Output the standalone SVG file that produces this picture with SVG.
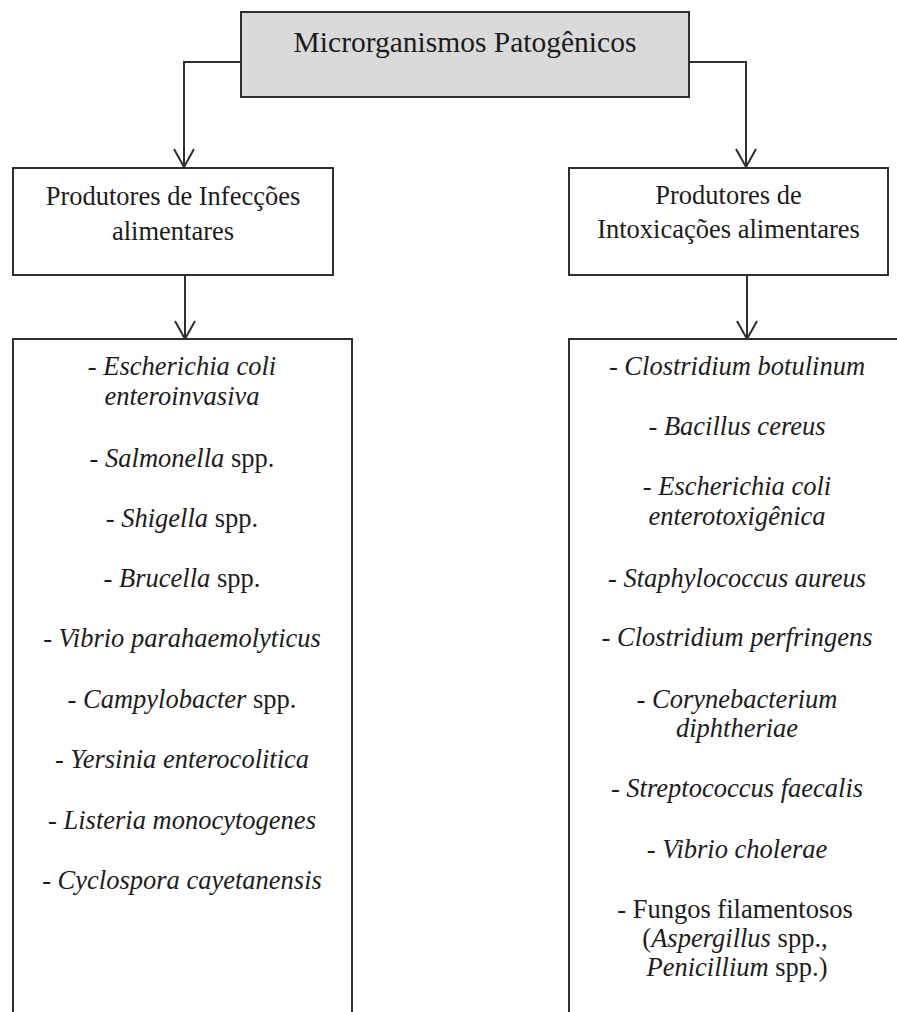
<svg xmlns="http://www.w3.org/2000/svg" width="897" height="1012" viewBox="0 0 897 1012">
<style>
.box{fill:#ffffff;stroke:#2e2e2e;stroke-width:2}
.root{fill:#d9dad9;stroke:#2e2e2e;stroke-width:2}
.t{font-family:"Liberation Serif","Times New Roman",serif;font-size:26.5px;fill:#1c1c1c;text-anchor:middle}
.title{font-size:29.5px}
.i{font-style:italic}
.con{fill:none;stroke:#2e2e2e;stroke-width:2}
</style>
<defs>
<marker id="arr" markerUnits="userSpaceOnUse" viewBox="-20 -12 22 24" refX="0" refY="0" markerWidth="22" markerHeight="24" orient="auto" overflow="visible">
<path d="M-18,-10 L0,0 L-18,10" fill="none" stroke="#2e2e2e" stroke-width="2"/>
</marker>
</defs>
<rect width="897" height="1012" fill="#ffffff"/>
<g id="connectors">
<path class="con" d="M241,62 H184 V167" marker-end="url(#arr)"/>
<path class="con" d="M689,62 H746 V167" marker-end="url(#arr)"/>
<path class="con" d="M185,275 V339" marker-end="url(#arr)"/>
<path class="con" d="M747,275 V339" marker-end="url(#arr)"/>
</g>
<g id="root">
<rect class="root" x="241" y="12" width="448" height="85"/>
<text class="t title" x="465" y="52">Microrganismos Patogênicos</text>
</g>
<g id="infeccoes">
<rect class="box" x="13" y="168" width="320" height="107"/>
<text class="t" x="173" y="205">Produtores de Infecções</text>
<text class="t" x="173" y="240">alimentares</text>
</g>
<g id="intoxicacoes">
<rect class="box" x="569" y="168" width="319" height="107"/>
<text class="t" x="728.5" y="204">Produtores de</text>
<text class="t" x="728.5" y="238">Intoxicações alimentares</text>
</g>
<g id="lista-infeccoes">
<rect class="box" x="13" y="339" width="339" height="700"/>
<text class="t" x="182" y="375">- <tspan class="i">Escherichia coli</tspan></text>
<text class="t i" x="182" y="405">enteroinvasiva</text>
<text class="t" x="182" y="467">- <tspan class="i">Salmonella</tspan> spp.</text>
<text class="t" x="182" y="527">- <tspan class="i">Shigella</tspan> spp.</text>
<text class="t" x="182" y="587">- <tspan class="i">Brucella</tspan> spp.</text>
<text class="t" x="182" y="647">- <tspan class="i">Vibrio parahaemolyticus</tspan></text>
<text class="t" x="182" y="708">- <tspan class="i">Campylobacter</tspan> spp.</text>
<text class="t" x="182" y="768">- <tspan class="i">Yersinia enterocolitica</tspan></text>
<text class="t" x="182" y="829">- <tspan class="i">Listeria monocytogenes</tspan></text>
<text class="t" x="182" y="889">- <tspan class="i">Cyclospora cayetanensis</tspan></text>
</g>
<g id="lista-intoxicacoes">
<rect class="box" x="569" y="339" width="360" height="700"/>
<text class="t" x="737" y="375">- <tspan class="i">Clostridium botulinum</tspan></text>
<text class="t" x="737" y="435">- <tspan class="i">Bacillus cereus</tspan></text>
<text class="t" x="737" y="495">- <tspan class="i">Escherichia coli</tspan></text>
<text class="t i" x="737" y="525">enterotoxigênica</text>
<text class="t" x="737" y="587">- <tspan class="i">Staphylococcus aureus</tspan></text>
<text class="t" x="737" y="646">- <tspan class="i">Clostridium perfringens</tspan></text>
<text class="t" x="737" y="708">- <tspan class="i">Corynebacterium</tspan></text>
<text class="t i" x="737" y="737">diphtheriae</text>
<text class="t" x="737" y="797">- <tspan class="i">Streptococcus faecalis</tspan></text>
<text class="t" x="737" y="858">- <tspan class="i">Vibrio cholerae</tspan></text>
<text class="t" x="735" y="918">- Fungos filamentosos</text>
<text class="t" x="735" y="947">(<tspan class="i">Aspergillus</tspan> spp.,</text>
<text class="t" x="737" y="976"><tspan class="i">Penicillium</tspan> spp.)</text>
</g>
</svg>
